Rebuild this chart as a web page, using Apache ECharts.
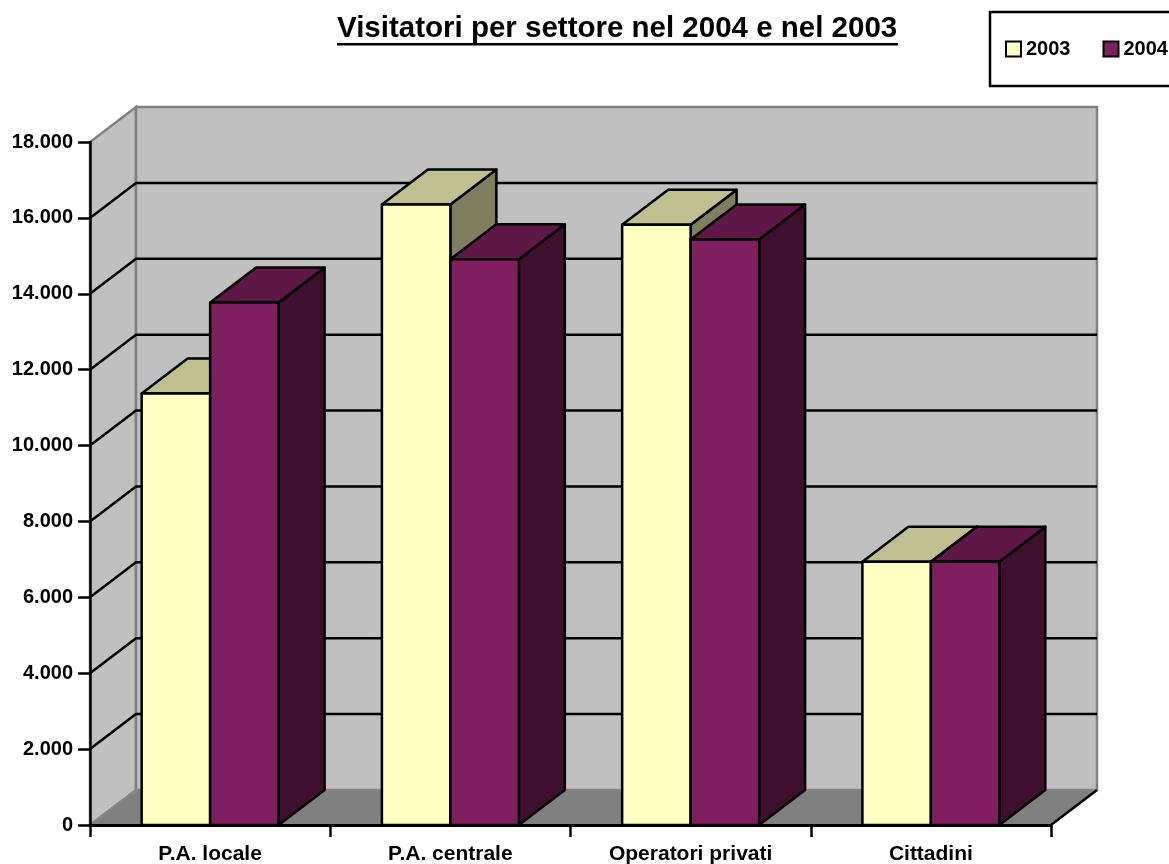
<!DOCTYPE html>
<html><head><meta charset="utf-8">
<script src="https://cdn.jsdelivr.net/npm/echarts@6/dist/echarts.min.js"></script>
<style>html,body{margin:0;padding:0;background:#fff}#c{width:1169px;height:864px}</style>
</head><body><div id="c"></div>
<script>
// ---- data ----
const categories = ['P.A. locale', 'P.A. centrale', 'Operatori privati', 'Cittadini'];
const seriesNames = ['2003', '2004'];
const values2003 = [11370, 16350, 15820, 6940];
const values2004 = [13770, 14910, 15430, 6940];
const yTickValues = [0, 2000, 4000, 6000, 8000, 10000, 12000, 14000, 16000, 18000];
const yTickLabels = ['0', '2.000', '4.000', '6.000', '8.000', '10.000', '12.000', '14.000', '16.000', '18.000'];
const titleText = 'Visitatori per settore nel 2004 e nel 2003';

// ---- style ----
const DX = 46, DY = -35;
const FONT = '"Liberation Sans", Arial, sans-serif';
const palette = {
  '2003': { front: '#FFFFC0', top: '#BFBF90', side: '#7F7F60' },
  '2004': { front: '#7F1F5F', top: '#5F1747', side: '#3F0F2F' }
};

function renderBackground(params, api) {
  const cs = params.coordSys;
  const x0 = cs.x, x1 = cs.x + cs.width;
  const y0 = api.coord([0, yTickValues[0]])[1];
  const yT = api.coord([0, yTickValues[yTickValues.length - 1]])[1];
  const ch = [];
  ch.push({ type: 'polygon', shape: { points: [[x0, y0], [x0, yT], [x0 + DX, yT + DY], [x0 + DX, y0 + DY]] },
    style: { fill: '#C0C0C0', stroke: '#808080', lineWidth: 2.5 } });
  ch.push({ type: 'rect', shape: { x: x0 + DX, y: yT + DY, width: x1 - x0, height: y0 - yT },
    style: { fill: '#C0C0C0', stroke: '#808080', lineWidth: 2.5 } });
  yTickValues.slice(1, -1).forEach(v => {
    const y = api.coord([0, v])[1];
    ch.push({ type: 'polyline', shape: { points: [[x0, y], [x0 + DX, y + DY], [x1 + DX, y + DY]] },
      style: { stroke: '#000', lineWidth: 2.5, fill: null } });
  });
  ch.push({ type: 'polygon', shape: { points: [[x0, y0], [x0 + DX, y0 + DY], [x1 + DX, y0 + DY], [x1, y0]] },
    style: { fill: '#808080', stroke: '#8a8a8a', lineWidth: 1 } });
  ch.push({ type: 'line', shape: { x1: x1, y1: y0, x2: x1 + DX, y2: y0 + DY },
    style: { stroke: '#000', lineWidth: 2.5 } });
  return { type: 'group', children: ch };
}

function makeBarRender(name, idx) {
  return function (params, api) {
    const cat = api.value(0), v = api.value(1);
    const band = api.size([1, 0])[0];
    const w = band * 0.285;
    const top = api.coord([cat, v]);
    const base = api.coord([cat, 0]);
    const xl = idx === 0 ? top[0] - w : top[0];
    const xr = xl + w, yt = top[1], yb = base[1];
    const c = palette[name];
    const ls = { stroke: '#000', lineWidth: 2.5, lineJoin: 'round' };
    return { type: 'group', children: [
      { type: 'polygon', shape: { points: [[xr, yt], [xr + DX, yt + DY], [xr + DX, yb + DY], [xr, yb]] }, style: Object.assign({ fill: c.side }, ls) },
      { type: 'polygon', shape: { points: [[xl, yt], [xl + DX, yt + DY], [xr + DX, yt + DY], [xr, yt]] }, style: Object.assign({ fill: c.top }, ls) },
      { type: 'rect', shape: { x: xl, y: yt, width: w, height: yb - yt }, style: Object.assign({ fill: c.front }, ls) }
    ] };
  };
}

const chart = echarts.init(document.getElementById('c'));
chart.setOption({
  animation: false,
  backgroundColor: '#fff',
  title: {
    text: titleText, left: 332, top: 9,
    textStyle: { fontFamily: FONT, fontSize: 29.5, fontWeight: 'bold', color: '#000' }
  },
  legend: {
    data: seriesNames, left: 990, top: 12, orient: 'horizontal', width: 400,
    padding: [27, 40, 27, 15], itemGap: 32, itemWidth: 15, itemHeight: 15,
    icon: 'rect', borderColor: '#000', borderWidth: 2.5, backgroundColor: '#fff',
    itemStyle: { borderColor: '#000', borderWidth: 2 },
    textStyle: { fontFamily: FONT, fontSize: 20, fontWeight: 'bold', color: '#000' }
  },
  graphic: [{
    type: 'rect', left: 337, top: 43, shape: { width: 561, height: 2.5 }, style: { fill: '#000' }
  }],
  grid: { left: 90, right: 118, top: 142, bottom: 39, containLabel: false, outerBoundsMode: 'none' },
  xAxis: {
    type: 'category', data: categories, z: 10,
    axisLine: { show: true, lineStyle: { color: '#000', width: 3 } },
    axisTick: { show: true, length: 12, lineStyle: { color: '#000', width: 2.5 } },
    axisLabel: { margin: 18.5, fontFamily: FONT, fontSize: 21, fontWeight: 'bold', color: '#000' },
    splitLine: { show: false }
  },
  yAxis: {
    type: 'value', min: yTickValues[0], max: yTickValues[yTickValues.length - 1], interval: 2000, z: 10,
    axisLine: { show: true, lineStyle: { color: '#000', width: 2.5 } },
    axisTick: { show: true, length: 12, lineStyle: { color: '#000', width: 2.5 } },
    axisLabel: {
      margin: 17, fontFamily: FONT, fontSize: 20, fontWeight: 'bold', color: '#000',
      formatter: v => yTickLabels[yTickValues.indexOf(v)]
    },
    splitLine: { show: false }
  },
  series: [
    { type: 'custom', name: 'bg', z: 1, silent: true, renderItem: renderBackground, data: [[0, 0]] },
    { type: 'custom', name: seriesNames[0], z: 2, itemStyle: { color: palette['2003'].front },
      renderItem: makeBarRender('2003', 0), data: values2003.map((v, i) => [i, v]) },
    { type: 'custom', name: seriesNames[1], z: 3, itemStyle: { color: palette['2004'].front },
      renderItem: makeBarRender('2004', 1), data: values2004.map((v, i) => [i, v]) }
  ]
});
</script></body></html>
